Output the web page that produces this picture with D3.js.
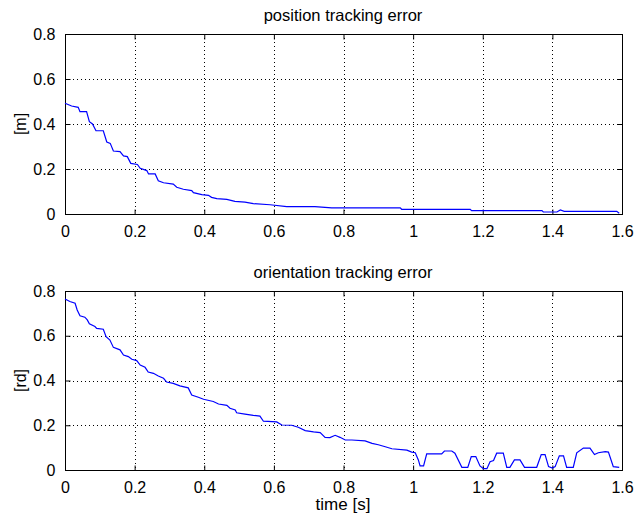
<!DOCTYPE html>
<html>
<head>
<meta charset="utf-8">
<script src="https://cdn.jsdelivr.net/npm/d3@7"></script>
<style>
  body { margin: 0; background: #fff; }
  text { font-family: "Liberation Sans", Arial, sans-serif; fill: #000; }
</style>
</head>
<body>
<div class="canvas"></div>
<script>
// position error samples (time [s], error [m])
const posTime = [0, 0.019, 0.038, 0.043, 0.062, 0.07, 0.079, 0.089, 0.11, 0.12, 0.13, 0.139, 0.158, 0.168, 0.179, 0.189, 0.208, 0.216, 0.235, 0.24, 0.259, 0.268, 0.283, 0.311, 0.321, 0.34, 0.364, 0.369, 0.393, 0.412, 0.421, 0.436, 0.465, 0.488, 0.517, 0.541, 0.589, 0.637, 0.718, 0.766, 0.963, 0.967, 1.164, 1.168, 1.37, 1.374, 1.413, 1.423, 1.434, 1.585, 1.592];
const posErr = [0.492, 0.48, 0.474, 0.455, 0.455, 0.41, 0.40, 0.37, 0.37, 0.32, 0.314, 0.28, 0.277, 0.258, 0.255, 0.225, 0.22, 0.203, 0.193, 0.178, 0.178, 0.148, 0.139, 0.133, 0.119, 0.11, 0.104, 0.095, 0.086, 0.083, 0.074, 0.068, 0.065, 0.056, 0.053, 0.046, 0.041, 0.033, 0.033, 0.027, 0.027, 0.021, 0.021, 0.015, 0.015, 0.009, 0.009, 0.018, 0.012, 0.012, 0.003];

// orientation error samples (time [s], error [rd])
const oriTime = [0, 0.014, 0.029, 0.035, 0.043, 0.057, 0.064, 0.07, 0.086, 0.091, 0.11, 0.118, 0.129, 0.139, 0.158, 0.168, 0.182, 0.192, 0.206, 0.216, 0.23, 0.239, 0.254, 0.268, 0.283, 0.292, 0.311, 0.33, 0.354, 0.364, 0.383, 0.398, 0.426, 0.441, 0.465, 0.474, 0.489, 0.493, 0.517, 0.541, 0.56, 0.57, 0.608, 0.623, 0.651, 0.67, 0.69, 0.714, 0.733, 0.747, 0.761, 0.776, 0.79, 0.805, 0.824, 0.862, 0.882, 0.9, 0.92, 0.939, 0.982, 0.996, 1.006, 1.015, 1.02, 1.03, 1.039, 1.082, 1.09, 1.111, 1.12, 1.14, 1.157, 1.167, 1.18, 1.192, 1.202, 1.212, 1.221, 1.231, 1.24, 1.259, 1.269, 1.278, 1.291, 1.307, 1.32, 1.355, 1.368, 1.379, 1.389, 1.4, 1.408, 1.42, 1.432, 1.441, 1.46, 1.47, 1.489, 1.508, 1.521, 1.532, 1.552, 1.561, 1.575, 1.592];
const oriErr = [0.764, 0.753, 0.745, 0.715, 0.689, 0.683, 0.671, 0.653, 0.641, 0.633, 0.629, 0.596, 0.581, 0.548, 0.537, 0.514, 0.507, 0.495, 0.489, 0.469, 0.459, 0.438, 0.432, 0.42, 0.41, 0.393, 0.387, 0.376, 0.367, 0.335, 0.325, 0.316, 0.306, 0.295, 0.289, 0.276, 0.268, 0.256, 0.25, 0.244, 0.241, 0.218, 0.215, 0.201, 0.2, 0.191, 0.176, 0.17, 0.167, 0.146, 0.145, 0.155, 0.146, 0.134, 0.134, 0.13, 0.119, 0.113, 0.104, 0.095, 0.089, 0.08, 0.077, 0.045, 0.018, 0.018, 0.072, 0.072, 0.085, 0.085, 0.075, 0.012, 0.012, 0.06, 0.06, 0.018, 0.006, 0.006, 0.037, 0.042, 0.075, 0.075, 0.012, 0.012, 0.045, 0.045, 0.012, 0.012, 0.069, 0.069, 0.015, 0.009, 0.015, 0.063, 0.063, 0.012, 0.012, 0.077, 0.098, 0.098, 0.069, 0.077, 0.082, 0.08, 0.015, 0.012];

const xTicks = [0, 0.2, 0.4, 0.6, 0.8, 1, 1.2, 1.4, 1.6];
const yTicks = [0, 0.2, 0.4, 0.6, 0.8];

const svg = d3.select('.canvas')
  .append('svg')
    .attr('width', 635)
    .attr('height', 519);

const x = d3.scaleLinear().domain([0, 1.6]).range([65, 622]);
const fmt = d3.format('~g');

function panel(top, bottom, time, vals, title, ylabel) {
  const y = d3.scaleLinear().domain([0, 0.8]).range([bottom, top]);
  const g = svg.append('g');

  // dotted grid
  g.selectAll('.vgrid').data(xTicks.slice(1, -1)).enter()
    .append('line')
      .attr('x1', d => Math.round(x(d)) + 0.5).attr('x2', d => Math.round(x(d)) + 0.5)
      .attr('y1', top).attr('y2', bottom)
      .attr('stroke', '#000').attr('stroke-width', 1)
      .attr('stroke-dasharray', '1,3');
  g.selectAll('.hgrid').data(yTicks.slice(1, -1)).enter()
    .append('line')
      .attr('y1', d => Math.round(y(d)) + 0.5).attr('y2', d => Math.round(y(d)) + 0.5)
      .attr('x1', 65).attr('x2', 622)
      .attr('stroke', '#000').attr('stroke-width', 1)
      .attr('stroke-dasharray', '1,3');

  // box
  g.append('rect')
    .attr('x', 65.5).attr('y', top + 0.5)
    .attr('width', 622 - 65).attr('height', bottom - top)
    .attr('fill', 'none').attr('stroke', '#000');

  // axes with inward ticks
  const xb = g.append('g').attr('transform', `translate(0,${bottom + 0.5})`)
    .call(d3.axisBottom(x).tickValues(xTicks).tickFormat(fmt).tickSizeInner(-5).tickSizeOuter(0).tickPadding(11));
  const xt = g.append('g').attr('transform', `translate(0,${top + 0.5})`)
    .call(d3.axisTop(x).tickValues(xTicks).tickFormat('').tickSizeInner(-5).tickSizeOuter(0));
  const yl = g.append('g').attr('transform', 'translate(65.5,0)')
    .call(d3.axisLeft(y).tickValues(yTicks).tickFormat(fmt).tickSizeInner(-5).tickSizeOuter(0).tickPadding(10));
  const yr = g.append('g').attr('transform', 'translate(622.5,0)')
    .call(d3.axisRight(y).tickValues(yTicks).tickFormat('').tickSizeInner(-5).tickSizeOuter(0));
  [xb, xt, yl, yr].forEach(a => {
    a.select('.domain').remove();
    a.selectAll('line').attr('stroke', '#000');
    a.selectAll('text').style('font-size', '16px').style('font-family', '"Liberation Sans", Arial, sans-serif');
  });

  // the line
  const pts = time.map((t, i) => [t, vals[i]]);
  g.append('path')
    .datum(pts)
    .attr('fill', 'none')
    .attr('stroke', '#0000ff')
    .attr('stroke-width', 1.2)
    .attr('d', d3.line().x(d => x(d[0])).y(d => y(d[1])));

  g.append('text')
    .attr('x', 343).attr('y', top - 13)
    .attr('text-anchor', 'middle')
    .style('font-size', '16.5px')
    .text(title);

  g.append('text')
    .attr('transform', `translate(26,${(top + bottom) / 2}) rotate(-90)`)
    .attr('text-anchor', 'middle')
    .style('font-size', '16px')
    .text(ylabel);
}

panel(34, 214, posTime, posErr, 'position tracking error', '[m]');
panel(291, 470, oriTime, oriErr, 'orientation tracking error', '[rd]');

svg.append('text')
  .attr('x', 343).attr('y', 510)
  .attr('text-anchor', 'middle')
  .style('font-size', '17px')
  .text('time [s]');
</script>
</body>
</html>
